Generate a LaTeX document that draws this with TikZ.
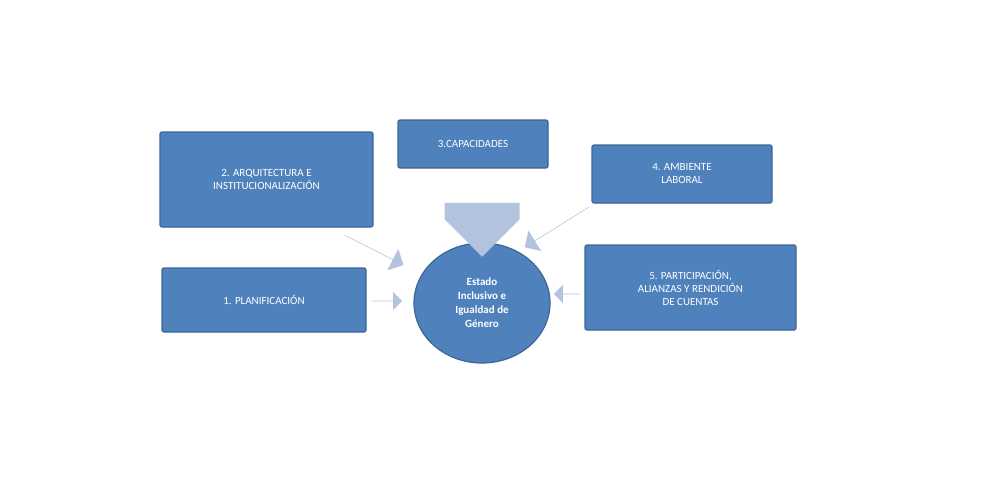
\documentclass[tikz,border=0pt]{standalone}
\usepackage{fontspec}
\setmainfont{Carlito}
\usetikzlibrary{shapes.arrows,shapes.geometric}
\definecolor{boxblue}{HTML}{4F81BD}
\definecolor{boxedge}{HTML}{3C6696}
\definecolor{arrowc}{HTML}{B3C3DE}
\tikzset{
 bbox/.style={draw=boxedge,line width=1.2pt,fill=boxblue,rounded corners=2pt,text=white,align=center,font=\fontsize{11}{13}\selectfont,inner sep=0pt},
 fat/.style={single arrow,fill=arrowc,draw=none,single arrow head extend=8pt,inner sep=0pt,anchor=center}
}
\begin{document}
\begin{tikzpicture}[x=1pt,y=-1pt]
\useasboundingbox (0,0) rectangle (1000,500);
\node[bbox,minimum width=213pt,minimum height=95pt] (b2) at (266.5,179.5) {2. ARQUITECTURA E\\INSTITUCIONALIZACIÓN};
\node[bbox,minimum width=150pt,minimum height=48pt] (b3) at (473,144) {3.CAPACIDADES};
\node[bbox,minimum width=180pt,minimum height=58pt] (b4) at (682,174) {4. AMBIENTE\\LABORAL};
\node[bbox,minimum width=204pt,minimum height=64pt] (b1) at (264,300) {1. PLANIFICACIÓN};
\node[bbox,minimum width=211pt,minimum height=85pt] (b5) at (690.5,287.5) {5. PARTICIPACIÓN,\\ALIANZAS Y RENDICIÓN\\DE CUENTAS};
\node[ellipse,draw=boxedge,line width=1.2pt,fill=boxblue,text=white,minimum width=136pt,minimum height=120pt,inner sep=0pt,align=center,font=\bfseries\fontsize{11}{14}\selectfont] (c) at (482,303) {Estado\\Inclusivo e\\Igualdad de\\Género};
\node[fat,minimum width=75pt,minimum height=54pt,single arrow head extend=0pt,rotate=-90] (a3) at (482,211) {};
\node[fat,minimum width=24pt,minimum height=66pt,rotate=-27] (a2) at (374,250) {};
\node[fat,minimum width=24pt,minimum height=76pt,rotate=212] (a4) at (557,227) {};
\node[fat,minimum width=18pt,minimum height=30pt,single arrow head extend=5pt] (a1) at (387,301) {};
\node[fat,minimum width=18pt,minimum height=26pt,single arrow head extend=5pt,rotate=180] (a5) at (567,294) {};
\end{tikzpicture}
\end{document}
